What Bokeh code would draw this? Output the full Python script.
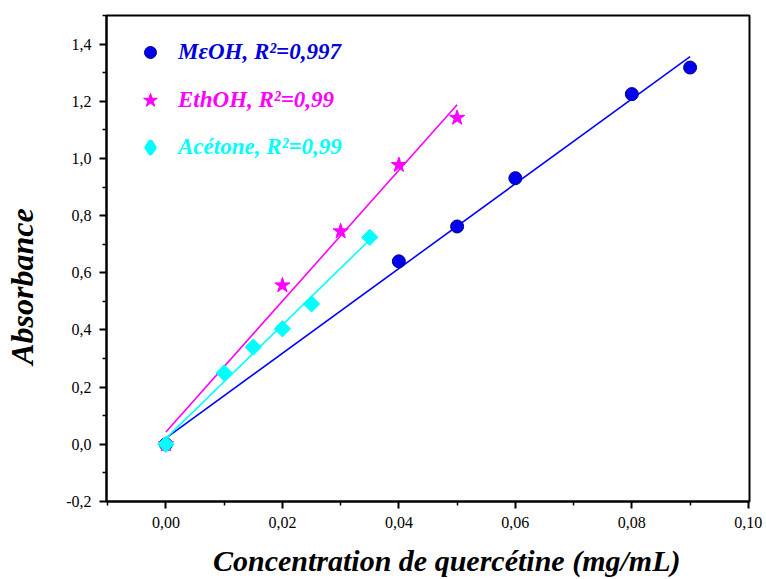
import numpy as np
from bokeh.plotting import figure
from bokeh.models import (Range1d, FixedTicker, CustomJSTickFormatter, Legend,
                          LegendItem)
from bokeh.embed import file_html
from bokeh.resources import INLINE

# ---- data ----
meoh_x = [0.0, 0.04, 0.05, 0.06, 0.08, 0.09]
meoh_y = [0.0, 0.640, 0.762, 0.931, 1.225, 1.318]

ethoh_x = [0.0, 0.02, 0.03, 0.04, 0.05]
ethoh_y = [0.0, 0.556, 0.745, 0.977, 1.142]

acet_x = [0.0, 0.01, 0.015, 0.02, 0.025, 0.035]
acet_y = [0.0, 0.250, 0.340, 0.404, 0.491, 0.724]

labels = ["MεOH, R²=0,997", "EthOH, R²=0,99", "Acétone, R²=0,99"]

x_major = [0.0, 0.02, 0.04, 0.06, 0.08, 0.10]
x_minor = [-0.01, 0.01, 0.03, 0.05, 0.07, 0.09]
y_major = [-0.2, 0.0, 0.2, 0.4, 0.6, 0.8, 1.0, 1.2, 1.4]
y_minor = [-0.1, 0.1, 0.3, 0.5, 0.7, 0.9, 1.1, 1.3, 1.5]

x_title = "Concentration de quercétine (mg/mL)"
y_title = "Absorbance"

BLUE = "#0000FF"
MAG = "#FF00FF"
CYAN = "#00FFFF"
FONT = "Liberation Serif"
NBSP = "\u00a0"

p = figure(width=766, height=579, output_backend="svg", toolbar_location=None,
           x_range=Range1d(-0.0102, 0.1002), y_range=Range1d(-0.2, 1.5),
           min_border_left=106, min_border_right=17, min_border_top=15,
           min_border_bottom=77)
p.xgrid.visible = False
p.ygrid.visible = False
p.outline_line_color = "black"
p.outline_line_width = 2
p.background_fill_color = "white"
p.border_fill_color = "white"

xax = p.below[0]
yax = p.left[0]
xax.ticker = FixedTicker(ticks=x_major, minor_ticks=x_minor)
yax.ticker = FixedTicker(ticks=y_major, minor_ticks=y_minor)
xax.formatter = CustomJSTickFormatter(code="return tick.toFixed(2).replace('.', ',');")
yax.formatter = CustomJSTickFormatter(code="return tick.toFixed(1).replace('.', ',');")

for ax in (xax, yax):
    ax.axis_line_width = 2
    ax.axis_line_color = "black"
    ax.major_tick_line_width = 2
    ax.minor_tick_line_width = 1.5
    ax.major_tick_in = 0
    ax.major_tick_out = 7
    ax.minor_tick_in = 0
    ax.minor_tick_out = 4
    ax.major_label_text_font = FONT
    ax.major_label_text_font_style = "normal"
    ax.major_label_text_font_size = "16px"
    ax.major_label_text_color = "black"
    ax.major_label_standoff = 8
    ax.axis_label_text_font = FONT
    ax.axis_label_text_font_style = "bold italic"
    ax.axis_label_text_color = "black"

# axis titles (non-breaking spaces nudge them off-centre as in the reference)
yax.axis_label = y_title + NBSP * 7
yax.axis_label_text_font_size = "32px"
yax.axis_label_standoff = 23
xax.axis_label = NBSP * 5 + x_title
xax.axis_label_text_font_size = "30px"
xax.axis_label_standoff = 13


def fit_line(xs, ys):
    k, b = np.polyfit(xs, ys, 1)
    x0, x1 = min(xs), max(xs)
    return [x0, x1], [k * x0 + b, k * x1 + b]


# MeOH
lx, ly = fit_line(meoh_x, meoh_y)
p.line(lx, ly, line_color=BLUE, line_width=1.6)
r_meoh = p.scatter(meoh_x, meoh_y, marker="circle", size=13,
                   fill_color="#0000EE", line_color="#00008B", line_width=1)
# EthOH
lx, ly = fit_line(ethoh_x, ethoh_y)
p.line(lx, ly, line_color=MAG, line_width=1.6)
r_eth = p.scatter(ethoh_x, ethoh_y, marker="star", size=16,
                  fill_color=MAG, line_color=MAG, line_width=1)
# Acetone
lx, ly = fit_line(acet_x, acet_y)
p.line(lx, ly, line_color=CYAN, line_width=1.6)
r_ac = p.scatter(acet_x, acet_y, marker="square", size=11.5, angle=np.pi / 4,
                 fill_color=CYAN, line_color=CYAN, line_width=1)
# hidden proxy so the legend shows a diamond (legend does not rotate squares)
r_ac_leg = p.scatter(acet_x[:1], acet_y[:1], marker="diamond", size=14,
                     fill_color=CYAN, line_color=CYAN, line_width=3.5,
                     visible=False)

# legends (one per entry so each text has its own colour)
specs = [
    (r_meoh, labels[0], "#0000DD", 30, 29, 434, 13),
    (r_eth, labels[1], MAG, 36, 26, 383, 10),
    (r_ac_leg, labels[2], CYAN, 34, 27, 337, 11),
]
for rend, lab, col, gsz, vx, vy, stand in specs:
    leg = Legend(items=[LegendItem(label=lab, renderers=[rend])],
                 location=(vx, vy), padding=0, margin=0,
                 border_line_color=None, background_fill_alpha=0,
                 glyph_width=gsz, glyph_height=gsz, label_height=gsz,
                 label_standoff=stand, label_text_font=FONT,
                 label_text_font_style="bold italic",
                 label_text_font_size="23px", label_text_color=col,
                 label_text_baseline="middle")
    p.add_layout(leg)

open("out.html", "w").write(file_html(p, INLINE))
